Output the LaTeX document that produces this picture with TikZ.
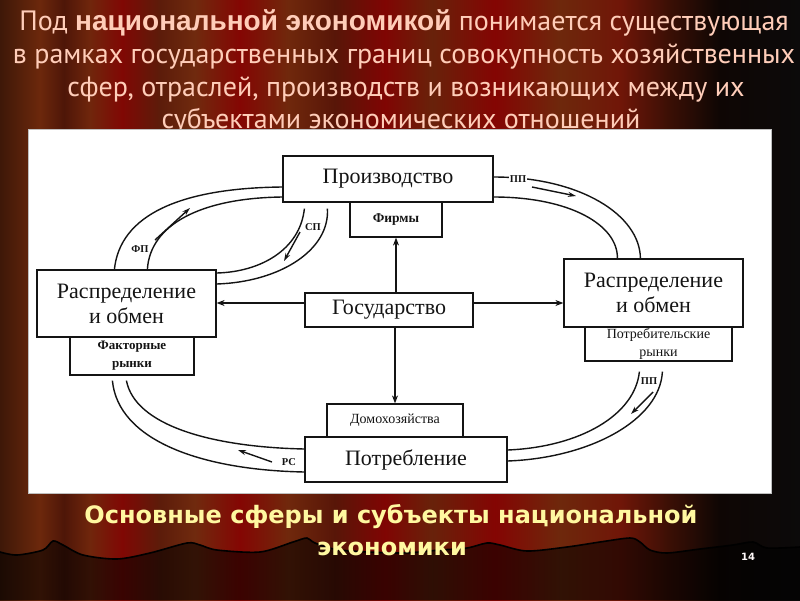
\documentclass[tikz,border=0pt]{standalone}
\usepackage{fontspec}
\setmainfont{Liberation Serif}
\newfontfamily\titlefont{PT Sans}
\newfontfamily\titleboldfont{Liberation Sans}
\newfontfamily\capfont{DejaVu Sans}
\usetikzlibrary{arrows.meta}
\definecolor{titlecol}{RGB}{255,205,185}
\definecolor{capcol}{RGB}{255,248,160}
\definecolor{ink}{RGB}{20,20,20}
\pgfdeclarehorizontalshading{curtain}{100bp}{%
rgb(0bp)=(0.243,0.094,0.031);
rgb(25bp)=(0.243,0.094,0.031);
rgb(27.5bp)=(0.424,0.157,0.047);
rgb(29bp)=(0.306,0.086,0.031);
rgb(30.625bp)=(0.439,0.149,0.047);
rgb(32.625bp)=(0.502,0.031,0.016);
rgb(35bp)=(0.361,0.110,0.039);
rgb(37.1875bp)=(0.439,0.165,0.055);
rgb(40bp)=(0.518,0.024,0.012);
rgb(43bp)=(0.439,0.157,0.047);
rgb(45.9375bp)=(0.345,0.086,0.031);
rgb(49.0625bp)=(0.502,0.020,0.012);
rgb(52bp)=(0.408,0.133,0.039);
rgb(55.9375bp)=(0.518,0.020,0.012);
rgb(60bp)=(0.431,0.157,0.047);
rgb(63.75bp)=(0.439,0.086,0.031);
rgb(66.875bp)=(0.227,0.059,0.020);
rgb(70bp)=(0.055,0.024,0.016);
rgb(75bp)=(0.047,0.039,0.039);
rgb(100bp)=(0.047,0.039,0.039)}
\begin{document}
\begin{tikzpicture}[x=1pt,y=-1pt,
 box/.style={draw=ink,line width=1.2pt,fill=white,inner sep=0pt,align=center,text=ink,font=\fontsize{22}{25}\selectfont},
 smallbox/.style={box,font=\fontsize{13.5}{18}\selectfont\bfseries},
 chan/.style={draw=ink,line width=1.4pt},
 arr/.style={draw=ink,line width=1.3pt,-{Stealth[length=8pt,width=6pt]}},
 flow/.style={draw=ink,line width=1.4pt,-{Stealth[length=8pt,width=5pt]}},
 lbl/.style={font=\fontsize{10.5}{12}\selectfont\bfseries,inner sep=1pt,text=ink},
 ttl/.style={text=titlecol,font=\titlefont\fontsize{28}{30}\selectfont,inner sep=0pt},
 captxt/.style={text=capcol,font=\capfont\bfseries\fontsize{24}{30}\selectfont,inner sep=0pt}]
\useasboundingbox (0,0) rectangle (800,600);
\shade[shading=curtain] (0,0) rectangle (800,600);
% curtain hem
\fill[black,opacity=0.55] plot[smooth,tension=0.5] coordinates {(0,552) (17,555) (43,550) (53,541) (63,545) (83,555) (117,559) (150,553) (187,543) (200,545) (217,550) (260,552) (293,542) (307,538) (315,543) (340,550) (400,553) (440,550) (467,548) (487,543) (500,545) (527,551) (567,547) (600,542) (630,538) (640,542) (650,550) (667,553) (700,549) (733,545) (753,542) (767,548) (800,547)} -- (800,600) -- (0,600) -- cycle;
\draw[black,line width=1.6pt] plot[smooth,tension=0.5] coordinates {(0,552) (17,555) (43,550) (53,541) (63,545) (83,555) (117,559) (150,553) (187,543) (200,545) (217,550) (260,552) (293,542) (307,538) (315,543) (340,550) (400,553) (440,550) (467,548) (487,543) (500,545) (527,551) (567,547) (600,542) (630,538) (640,542) (650,550) (667,553) (700,549) (733,545) (753,542) (767,548) (800,547)};
% title
\node[ttl] (t1) at (404,23) {Под {\titleboldfont\bfseries национальной экономикой} понимается существующая};
\node[ttl] (t2) at (404,57) {в рамках государственных границ совокупность хозяйственных};
\node[ttl] (t3) at (406,90) {сфер, отраслей, производств и возникающих между их};
\node[ttl] (t4) at (401,121) {субъектами экономических отношений};
% panel
\fill[white] (28,129) rectangle (771,493);
\draw[gray!50,line width=0.6pt] (28,129) rectangle (771,493);
% boxes
\node[smallbox,minimum width=92pt,minimum height=35pt] (firm) at (396,219.5) {Фирмы};
\node[box,minimum width=210pt,minimum height=46pt] (prod) at (388,179) {Производство};
\node[box,minimum width=168pt,minimum height=34pt] (gos) at (389,310) {Государство};
\node[smallbox,font=\fontsize{14}{18}\selectfont,minimum width=136pt,minimum height=33pt] (dom) at (395,420.5) {Домохозяйства};
\node[box,minimum width=202pt,minimum height=45pt] (potr) at (406,459.5) {Потребление};
\node[smallbox,minimum width=124pt,minimum height=38pt,font=\fontsize{13}{18}\selectfont\bfseries] (fac) at (132,356) {Факторные\\рынки};
\node[box,minimum width=179pt,minimum height=67pt] (lre) at (126.5,303.5) {Распределение\\и обмен};
\node[smallbox,minimum width=147pt,minimum height=34pt,font=\fontsize{14}{18}\selectfont] (prc) at (658.5,344) {Потребительские\\рынки};
\node[box,minimum width=179pt,minimum height=68pt] (rre) at (653.5,293) {Распределение\\и обмен};
% state arrows
\draw[arr] (firm.south |- gos.north) -- (firm.south);
\draw[arr] (dom.north |- gos.south) -- (dom.north);
\draw[arr] ([yshift=7pt]gos.west) -- ([yshift=7pt]gos.west -| lre.east);
\draw[arr] ([yshift=7pt]gos.east) -- ([yshift=7pt]gos.east -| rre.west);
% channel FP
\draw[chan] ([xshift=78pt]lre.north west) .. controls (120,215) and (180,188) .. ([yshift=-8pt]prod.west);
\draw[chan] ([xshift=111pt]lre.north west) .. controls (150,225) and (200,198) .. ([yshift=-18pt]prod.west);
% channel SP
\draw[chan] ([xshift=45pt,yshift=-6pt]prod.south west) .. controls (330,250) and (280,282) .. ([yshift=19.5pt]lre.east);
\draw[chan] ([xshift=22pt,yshift=-6pt]prod.south west) .. controls (300,250) and (260,272) .. ([yshift=30.5pt]lre.east);
% channel PP top
\draw[chan] ([yshift=2pt]prod.east) .. controls (580,177) and (640,215) .. ([xshift=77pt]rre.north west);
\draw[chan] ([yshift=-18pt]prod.east) .. controls (570,197) and (618,225) .. ([xshift=54pt]rre.north west);
% channel PP bottom
\draw[chan] ([xshift=78pt,yshift=-10pt]prc.south west) .. controls (660,420) and (590,458) .. ([yshift=-1.5pt]potr.east);
\draw[chan] ([xshift=55pt,yshift=-10pt]prc.south west) .. controls (635,415) and (580,447) .. ([yshift=9.5pt]potr.east);
% channel RS
\draw[chan] ([xshift=43pt,yshift=-5pt]fac.south west) .. controls (118,440) and (200,470) .. ([yshift=-12.5pt]potr.west);
\draw[chan] ([xshift=57pt,yshift=-5pt]fac.south west) .. controls (135,425) and (210,447) .. ([yshift=10.5pt]potr.west);
% flow arrows
\coordinate (fp1) at (155,240); \coordinate (fp2) at (190,208);
\coordinate (sp1) at (300,232); \coordinate (sp2) at (284,261);
\coordinate (pa1) at (532,187); \coordinate (pa2) at (576,196);
\coordinate (pb1) at (653,392); \coordinate (pb2) at (631,414);
\coordinate (rs1) at (272,462); \coordinate (rs2) at (238,450);
\draw[flow] (fp1) -- (fp2);
\draw[flow] (sp1) -- (sp2);
\draw[flow] (pa1) -- (pa2);
\draw[flow] (pb1) -- (pb2);
\draw[flow] (rs1) -- (rs2);
% labels
\node[lbl] (lfp) at (140,249) {ФП};
\node[lbl] (lsp) at (313,227) {СП};
\node[lbl,fill=white] (lpa) at (518,179) {ПП};
\node[lbl] (lpb) at (649,381) {ПП};
\node[lbl] (lrs) at (289,462) {РС};
% caption
\node[captxt] (c1) at (391,517) {Основные сферы и субъекты национальной};
\node[captxt] (c2) at (392,549) {экономики};
\node[font=\capfont\bfseries\fontsize{10}{12}\selectfont,text=white!90!pink] (pg) at (748,557) {14};
\end{tikzpicture}
\end{document}
